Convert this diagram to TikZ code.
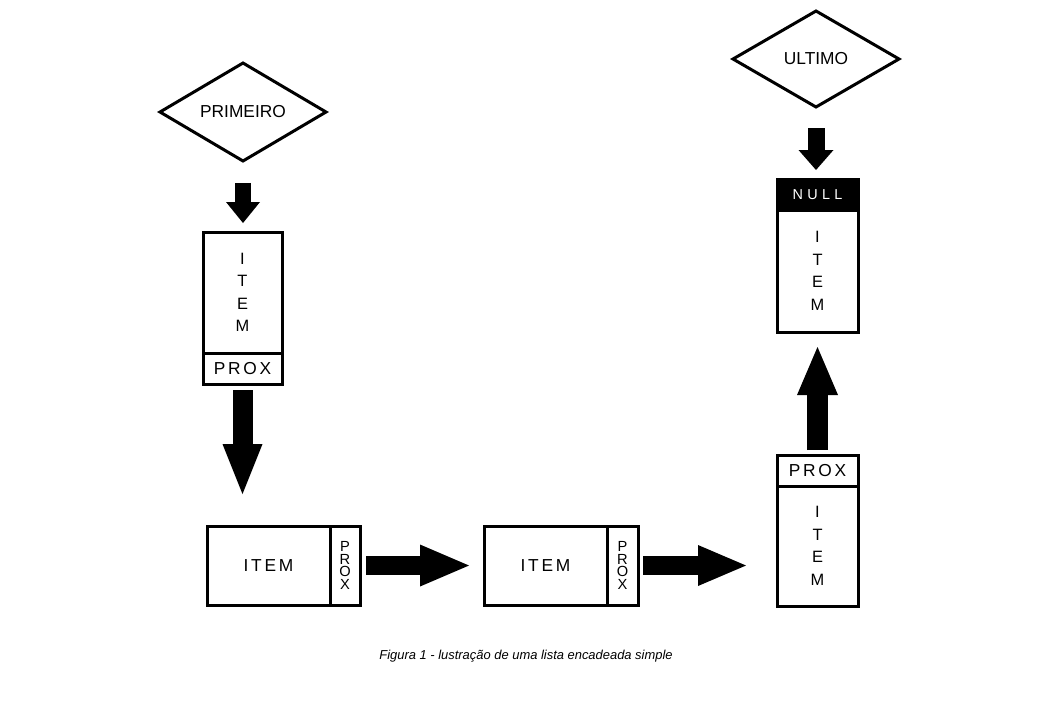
\documentclass[tikz,border=0pt]{standalone}
\usepackage{fontspec}
\setmainfont{Liberation Sans}
\usetikzlibrary{shapes.geometric,arrows.meta}
\newcommand\pxu{0.75pt}
\begin{document}
\begin{tikzpicture}[x=0.75pt,y=-0.75pt,
  cell/.style={draw, rectangle, line width=2.25pt, inner sep=0pt, outer sep=0pt, align=center},
  label/.style={font=\fontsize{13pt}{15pt}\selectfont\addfontfeature{LetterSpace=16}},
  vstack/.style={font=\fontsize{12.3pt}{16.9pt}\selectfont},
  vsmall/.style={font=\fontsize{11pt}{9.6pt}\selectfont},
  pointer/.style={draw, diamond, line width=2.25pt, inner sep=0pt, outer sep=0pt,
    font=\fontsize{13pt}{15pt}\selectfont},
  barrow/.style n args={3}{line width=#1, -{Triangle[length=#2, width=#3, line width=0pt]}}
]
\useasboundingbox (0,0) rectangle (1053,708);

% pointers to the list ends
\node[pointer, minimum width=166*\pxu, minimum height=95*\pxu] (primeiro) at (243,112) {PRIMEIRO};
\node[pointer, minimum width=166*\pxu, minimum height=96*\pxu] (ultimo) at (816,59) {ULTIMO};

% first node (vertical)
\node[cell, vstack, minimum width=79*\pxu, minimum height=121*\pxu] (n1item) at (242.5,292.5) {I\\T\\E\\M};
\node[cell, label, minimum width=79*\pxu, minimum height=31*\pxu] (n1prox) at (242.5,368.5) {PROX};

% second node (horizontal)
\node[cell, label, minimum width=123*\pxu, minimum height=79*\pxu] (b1item) at (268.5,565.5) {ITEM};
\node[cell, vsmall, minimum width=30*\pxu, minimum height=79*\pxu] (b1prox) at (345,565.5) {P\\R\\O\\X};

% third node (horizontal)
\node[cell, label, minimum width=123*\pxu, minimum height=79*\pxu] (b2item) at (545.5,565.5) {ITEM};
\node[cell, vsmall, minimum width=31*\pxu, minimum height=79*\pxu] (b2prox) at (622.5,565.5) {P\\R\\O\\X};

% fourth node (vertical, pointer on top)
\node[cell, label, minimum width=81*\pxu, minimum height=31*\pxu] (r1prox) at (817.5,470.5) {PROX};
\node[cell, vstack, minimum width=81*\pxu, minimum height=120*\pxu] (r1item) at (817.5,546) {I\\T\\E\\M};

% last node, with NULL pointer
\node[cell, fill=black, text=white, minimum width=81*\pxu, minimum height=31*\pxu,
  font=\fontsize{10.8pt}{12pt}\selectfont\addfontfeature{LetterSpace=30}] (r2null) at (817.5,194.5) {NULL};
\node[cell, vstack, minimum width=81*\pxu, minimum height=122*\pxu] (r2item) at (817.5,271) {I\\T\\E\\M};

% block arrows
\draw[barrow={12pt}{15.75pt}{25.5pt}, shorten <=16.5pt, shorten >=6.75pt]
  (primeiro.south) -- (primeiro.south |- n1item.north);
\draw[barrow={15pt}{37.5pt}{30pt}, shorten <=4.5pt, shorten >=24pt]
  (n1prox.south) -- (n1prox.south |- b1item.north);
\draw[barrow={14.25pt}{36.75pt}{31.5pt}, shorten <=4.5pt, shorten >=11.25pt]
  (b1prox.east) -- (b2item.west);
\draw[barrow={14.25pt}{36pt}{30.75pt}, shorten <=3.75pt, shorten >=23.25pt]
  (b2prox.east) -- (b2prox.east -| r1item.west);
\draw[barrow={15.75pt}{36pt}{30.75pt}, shorten <=3.75pt, shorten >=11.25pt]
  (r1prox.north) -- (r2item.south);
\draw[barrow={12.75pt}{15pt}{26.25pt}, shorten <=15.75pt, shorten >=6.75pt]
  (ultimo.south) -- (ultimo.south |- r2null.north);

% caption
\node[font=\fontsize{9.7pt}{11pt}\selectfont\itshape] (caption) at (526,656)
  {Figura 1 - lustração de uma lista encadeada simple};
\end{tikzpicture}
\end{document}
